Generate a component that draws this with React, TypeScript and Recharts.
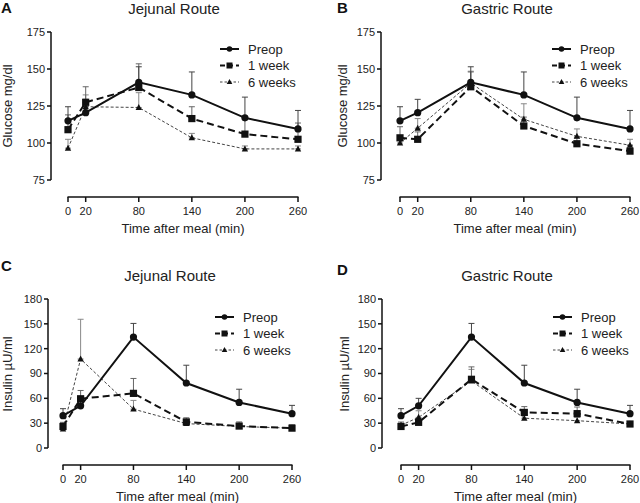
import React from 'react'
import { LineChart, Line, XAxis, YAxis, ErrorBar } from 'recharts'

const FONT = '"Liberation Sans", Arial, sans-serif'

const times = [0, 20, 80, 140, 200, 260]
const xTicks = [0, 20, 80, 140, 200, 260]
const glucoseTicks = [75, 100, 125, 150, 175]
const insulinTicks = [0, 30, 60, 90, 120, 150, 180]
const seriesNames = ['Preop', '1 week', '6 weeks']

// glucose (mg/dl), mean and upper SEM
const preopGlucose = [115, 120.5, 141, 132.5, 117, 109.5]
const preopGlucoseErr = [9.5, 9, 10.5, 15.5, 14, 12.5]
const jejGlucose1w = [109, 127.5, 137.5, 116.5, 106, 102.5]
const jejGlucose1wErr = [10, 10.5, 16, 8, 12, 11]
const jejGlucose6w = [96.5, 124.5, 124, 103.5, 96, 96]
const jejGlucose6wErr = [6, 8, 10, 3, 2, 2]
const gasGlucose1w = [103.5, 102.5, 138, 111.5, 99.5, 94.5]
const gasGlucose1wErr = [7.5, 5, 10, 6, 4, 4]
const gasGlucose6w = [100, 110, 140.5, 116, 104.5, 98.5]
const gasGlucose6wErr = [5, 6.5, 8, 10.5, 5, 4]

// insulin (µU/ml)
const preopInsulin = [39, 51, 134, 78.5, 55, 41.5]
const preopInsulinErr = [8.5, 9, 16.5, 21.5, 16, 10]
const jejInsulin1w = [26, 59.5, 66, 31.5, 26.5, 24]
const jejInsulin1wErr = [5, 10, 18, 5, 5, 4]
const jejInsulin6w = [23, 107.5, 47, 29.5, 26, 24]
const jejInsulin6wErr = [3, 48, 10.5, 3, 3, 3]
const gasInsulin1w = [26, 31, 83, 43, 41.5, 29]
const gasInsulin1wErr = [4, 4, 15, 7, 8, 3]
const gasInsulin6w = [27.5, 37, 81, 36, 33, 29]
const gasInsulin6wErr = [4, 8, 14, 4, 4, 3]

function buildRows(p: number[], pe: number[], a: number[], ae: number[], b: number[], be: number[]) {
  return times.map((t, i) => ({
    t,
    preop: p[i], preopErr: [0, pe[i]],
    w1: a[i], w1Err: [0, ae[i]],
    w6: b[i], w6Err: [0, be[i]],
  }))
}

const Circle = (props: any) => {
  const { cx, cy } = props
  if (cx == null || cy == null) return null
  return <circle cx={cx} cy={cy} r={3.6} fill="#111" />
}
const Square = (props: any) => {
  const { cx, cy } = props
  if (cx == null || cy == null) return null
  return <rect x={cx - 3.6} y={cy - 3.6} width={7.2} height={7.2} fill="#111" />
}
const Triangle = (props: any) => {
  const { cx, cy } = props
  if (cx == null || cy == null) return null
  return <polygon points={`${cx},${cy - 3.5} ${cx + 3.2},${cy + 2.5} ${cx - 3.2},${cy + 2.5}`} fill="#111" />
}

// Prism-style offset x axis, drawn from the tick renderer
function makeXTick(span: number) {
  return (props: any) => {
    const { x, y, payload, index } = props
    const ly = y + 17
    return (
      <g>
        {index === 0 && <line x1={x - 0.5} y1={ly} x2={x + span + 0.5} y2={ly} stroke="#111" strokeWidth={1.5} />}
        <line x1={x} y1={ly} x2={x} y2={ly + 5} stroke="#111" strokeWidth={1.5} />
        <text x={x} y={ly + 18} textAnchor="middle" fontSize={11} fill="#222" fontFamily={FONT}>{payload.value}</text>
        {index === 0 && (
          <text x={x + span / 2} y={ly + 36} textAnchor="middle" fontSize={13} fill="#222" fontFamily={FONT}>
            Time after meal (min)
          </text>
        )}
      </g>
    )
  }
}

type Panel = {
  letter: string
  title: string
  yLabel: string
  rows: any[]
  domain: [number, number]
  yTicks: number[]
  left: number
  top: number
  height: number
  yAxisWidth: number
  padL: number
  marginRight: number
  marginTop: number
  plotBottom: number
  letterX: number
  letterY: number
  titleX: number
  titleY: number
  yLabelX: number
  legendX: number
  legendY: number
}

const panels: Panel[] = [
  {
    letter: 'A', title: 'Jejunal Route', yLabel: 'Glucose mg/dl',
    rows: buildRows(preopGlucose, preopGlucoseErr, jejGlucose1w, jejGlucose1wErr, jejGlucose6w, jejGlucose6wErr),
    domain: [75, 175], yTicks: glucoseTicks,
    left: 0, top: 0, height: 250, yAxisWidth: 51, padL: 17, marginRight: 22, marginTop: 32, plotBottom: 180,
    letterX: 1, letterY: 8, titleX: 174, titleY: 8, yLabelX: 8, legendX: 220, legendY: 49,
  },
  {
    letter: 'B', title: 'Gastric Route', yLabel: 'Glucose mg/dl',
    rows: buildRows(preopGlucose, preopGlucoseErr, gasGlucose1w, gasGlucose1wErr, gasGlucose6w, gasGlucose6wErr),
    domain: [75, 175], yTicks: glucoseTicks,
    left: 320, top: 0, height: 250, yAxisWidth: 61, padL: 19, marginRight: 10, marginTop: 32, plotBottom: 180,
    letterX: 17, letterY: 8, titleX: 187, titleY: 8, yLabelX: 23, legendX: 232, legendY: 49,
  },
  {
    letter: 'C', title: 'Jejunal Route', yLabel: 'Insulin µU/ml',
    rows: buildRows(preopInsulin, preopInsulinErr, jejInsulin1w, jejInsulin1wErr, jejInsulin6w, jejInsulin6wErr),
    domain: [0, 180], yTicks: insulinTicks,
    left: 0, top: 250, height: 253, yAxisWidth: 48, padL: 15, marginRight: 28, marginTop: 49, plotBottom: 198,
    letterX: 1, letterY: 16, titleX: 170, titleY: 25, yLabelX: 8, legendX: 215, legendY: 67,
  },
  {
    letter: 'D', title: 'Gastric Route', yLabel: 'Insulin µU/ml',
    rows: buildRows(preopInsulin, preopInsulinErr, gasInsulin1w, gasInsulin1wErr, gasInsulin6w, gasInsulin6wErr),
    domain: [0, 180], yTicks: insulinTicks,
    left: 320, top: 250, height: 253, yAxisWidth: 62, padL: 19, marginRight: 10, marginTop: 49, plotBottom: 198,
    letterX: 17, letterY: 20, titleX: 187, titleY: 25, yLabelX: 25, legendX: 233, legendY: 67,
  },
]

function LegendBox({ x, y }: { x: number; y: number }) {
  const row = 16.5
  return (
    <svg width={110} height={60} style={{ position: 'absolute', left: x, top: y - 8 }}>
      <g transform="translate(0,8)">
        <line x1={0} y1={0} x2={19} y2={0} stroke="#111" strokeWidth={2} />
        <circle cx={9.5} cy={0} r={2.8} fill="#111" />
        <line x1={0} y1={row} x2={19} y2={row} stroke="#111" strokeWidth={2} strokeDasharray="5 3" />
        <rect x={6.5} y={row - 3} width={6} height={6} fill="#111" />
        <line x1={0} y1={row * 2} x2={19} y2={row * 2} stroke="#444" strokeWidth={1} strokeDasharray="2.5 2" />
        <polygon points={`9.5,${row * 2 - 3} 12.3,${row * 2 + 2} 6.7,${row * 2 + 2}`} fill="#111" />
        {seriesNames.map((n, i) => (
          <text key={n} x={28} y={i * row + 4.7} fontSize={13} fill="#222" fontFamily={FONT}>{n}</text>
        ))}
      </g>
    </svg>
  )
}

function PanelChart({ p }: { p: Panel }) {
  const width = 320
  const plotRight = width - p.marginRight
  const x0 = p.yAxisWidth + p.padL
  const span = plotRight - x0
  const xAxisHeight = p.height - p.plotBottom
  const plotCenter = (p.marginTop + p.plotBottom) / 2
  return (
    <div style={{ position: 'absolute', left: p.left, top: p.top, width, height: p.height, fontFamily: FONT }}>
      <LineChart
        width={width}
        height={p.height}
        data={p.rows}
        margin={{ top: p.marginTop, right: p.marginRight, bottom: 0, left: 0 }}
      >
        <XAxis
          dataKey="t"
          type="number"
          domain={[0, 260]}
          ticks={xTicks}
          padding={{ left: p.padL, right: 0 }}
          axisLine={false}
          tickLine={false}
          tickSize={0}
          tickMargin={0}
          height={xAxisHeight}
          interval={0}
          tick={makeXTick(span)}
        />
        <YAxis
          domain={p.domain}
          ticks={p.yTicks}
          width={p.yAxisWidth}
          allowDataOverflow
          interval={0}
          axisLine={{ stroke: '#111', strokeWidth: 1.5 }}
          tickLine={{ stroke: '#111', strokeWidth: 1.5 }}
          tickSize={4}
          tickMargin={2}
          tick={{ fontSize: 11, fill: '#222', fontFamily: FONT }}
        />
        <Line
          dataKey="w6"
          stroke="#444"
          strokeWidth={1}
          strokeDasharray="3 2"
          dot={<Triangle />}
          activeDot={false}
          isAnimationActive={false}
        >
          <ErrorBar dataKey="w6Err" direction="y" width={3} stroke="#888" strokeWidth={1} />
        </Line>
        <Line
          dataKey="w1"
          stroke="#111"
          strokeWidth={2}
          strokeDasharray="7 4"
          dot={<Square />}
          activeDot={false}
          isAnimationActive={false}
        >
          <ErrorBar dataKey="w1Err" direction="y" width={3} stroke="#666" strokeWidth={1} />
        </Line>
        <Line
          dataKey="preop"
          stroke="#111"
          strokeWidth={2}
          dot={<Circle />}
          activeDot={false}
          isAnimationActive={false}
        >
          <ErrorBar dataKey="preopErr" direction="y" width={3} stroke="#444" strokeWidth={1} />
        </Line>
      </LineChart>
      <div style={{ position: 'absolute', left: p.letterX, top: p.letterY - 8, fontSize: 15, lineHeight: '16px', fontWeight: 700, color: '#111' }}>
        {p.letter}
      </div>
      <div style={{ position: 'absolute', left: p.titleX - 80, width: 160, top: p.titleY - 8, textAlign: 'center', fontSize: 15, lineHeight: '17px', color: '#222' }}>
        {p.title}
      </div>
      <div
        style={{
          position: 'absolute', left: p.yLabelX - 60, top: plotCenter - 8, width: 120, height: 16,
          textAlign: 'center', fontSize: 13, lineHeight: '16px', color: '#222', transform: 'rotate(-90deg)',
        }}
      >
        {p.yLabel}
      </div>
      <LegendBox x={p.legendX} y={p.legendY} />
    </div>
  )
}

export default function App() {
  return (
    <div style={{ position: 'absolute', left: 0, top: 0, width: 640, height: 503, background: '#fff' }}>
      {panels.map(p => <PanelChart key={p.letter} p={p} />)}
    </div>
  )
}
